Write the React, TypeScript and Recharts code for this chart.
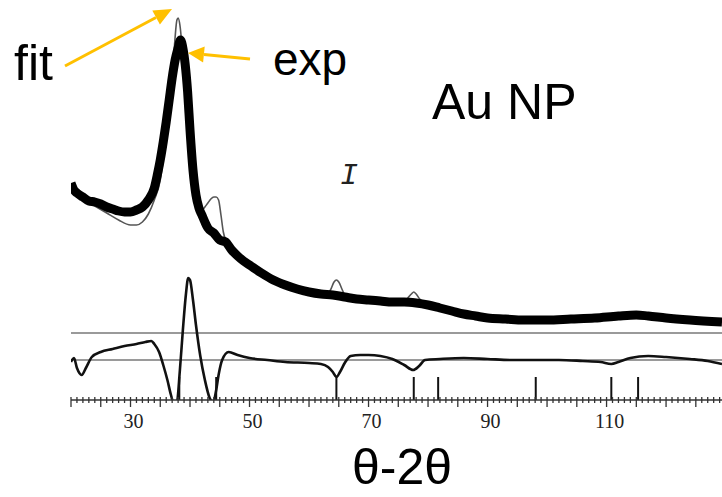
import React from 'react';
import { ComposedChart, Line, XAxis, YAxis, ReferenceLine } from 'recharts';

// 2θ (deg) and intensity (a.u., residual zero line = 0)
const expTheta = [20, 20.5, 21, 22, 23, 24, 25, 26, 27, 28, 29, 30, 31, 32, 33, 34, 34.5, 35, 35.5, 36, 36.5, 37, 37.5, 38, 38.4, 38.8, 39.2, 39.6, 40, 40.5, 41, 41.5, 42, 42.5, 43, 44, 45, 46, 47, 48, 49, 50, 52, 54, 56, 58, 60, 62, 64, 66, 68, 70, 72, 74, 76, 78, 80, 82, 84, 86, 88, 90, 93, 96, 100, 104, 108, 112, 115, 117, 120, 124, 129.4];
const expInt = [177, 170, 167, 163, 159, 158, 156, 153, 151, 149, 148, 148, 150, 153, 160, 172, 185, 200, 218, 238, 260, 282, 300, 312, 320, 312, 295, 268, 230, 190, 165, 152, 145, 138, 132, 127, 120, 118, 110, 104, 99, 95, 87, 80, 75, 71, 68, 66, 65, 63, 61, 60, 59, 58, 58, 57, 55, 52, 49, 46, 44, 42, 41, 40, 40, 41, 42, 44, 45, 44, 42, 40, 38];

const fitTheta = [20, 21, 22, 24, 26, 28, 30, 31, 32, 33, 34, 35, 35.5, 36, 36.5, 37, 37.4, 37.8, 38, 38.3, 38.7, 39.1, 39.5, 40, 40.5, 41, 41.5, 42, 42.5, 43, 43.5, 44, 44.4, 44.8, 45.2, 45.6, 46, 47, 48, 50, 52, 54, 56, 58, 60, 62, 63, 63.6, 64.2, 64.6, 65, 65.6, 66.2, 68, 70, 72, 74, 75.8, 76.6, 77.2, 77.6, 78, 78.6, 79.4, 80, 82, 84, 86, 88, 90, 93, 96, 100, 104, 108, 112, 115, 117, 120, 124, 129.4];
const fitInt = [172, 167, 161, 154, 147, 140, 135, 135, 138, 146, 160, 180, 200, 225, 240, 275, 315, 340, 342, 335, 310, 275, 240, 195, 165, 153, 150, 150, 153, 157, 161, 163, 163, 160, 145, 128, 120, 110, 104, 95, 87, 80, 75, 71, 68, 66, 66, 70, 78, 80, 78, 70, 63, 61, 60, 59, 58, 58, 62, 66, 68, 66, 61, 57, 55, 52, 49, 46, 44, 42, 41, 40, 40, 41, 42, 44, 45, 44, 42, 40, 38];

// difference curve (exp - fit), drawn around the 0 line
const diffTheta = [20, 20.5, 21, 21.8, 22.5, 23.5, 25, 27, 29, 31, 32.5, 33.5, 34, 34.8, 35.5, 36.2, 36.8, 37.3, 37.8, 38.3, 38.8, 39.3, 39.7, 40, 40.5, 41, 41.7, 42.5, 43.3, 43.9, 44.4, 44.8, 45.4, 46.5, 48, 50, 53, 56, 60, 62, 63.2, 64, 64.6, 65.2, 66, 67, 68.6, 70, 72, 74, 76, 77.5, 78.5, 79.5, 82, 86, 90, 94, 98, 102, 106, 109, 110.8, 112, 114, 117, 120, 124, 127, 129.4];
const diffInt = [-2, 2, -8, -15, -8, 3, 8, 11, 14, 16, 18, 19, 16, 8, -5, -20, -35, -44, -42, -10, 30, 65, 82, 80, 60, 35, 5, -20, -38, -42, -30, -15, 0, 8, 5, 2, 0, -2, -3, -4, -7, -12, -17, -12, -3, 4, 5, 5, 4, 1, -5, -10, -6, 0, 1, 2, 1, 0, 0, 0, -1, -2, -4, -2, 2, 4, 3, 1, -1, -4];

// Au reflections (2θ)
const braggPeaks = [38.2, 44.4, 64.6, 77.6, 81.7, 98.1, 110.8, 115.3];
const tickLabels = [30, 50, 70, 90, 110];
const upperGuide = 27;

const zip = (xs: number[], ys: number[]) => xs.map((x, i) => ({ x, y: ys[i] }));
const expData = zip(expTheta, expInt);
const fitData = zip(fitTheta, fitInt);
const diffData = zip(diffTheta, diffInt);

const allTicks: number[] = [];
for (let t = 20; t <= 129; t++) allTicks.push(t);

const AxisTick = (props: any) => {
  const { x, y, payload } = props;
  const v = payload.value;
  const major = v % 5 === 0;
  return (
    <g>
      <line x1={x} x2={x} y1={y - 3} y2={y + (major ? 7 : 3)} stroke="#333" strokeWidth={1.3} />
      {tickLabels.includes(v) && (
        <text x={x + 3} y={y + 28} textAnchor="middle" fontFamily="'Liberation Serif', serif" fontSize={20} fill="#222">
          {v}
        </text>
      )}
    </g>
  );
};

const orange = '#FFC000';

export default function App() {
  return (
    <div style={{ position: 'absolute', left: 0, top: 0, width: 722, height: 497, background: '#fff' }}>
      <ComposedChart width={722} height={497} margin={{ top: 0, right: 0, bottom: 67, left: 71 }}>
        <XAxis
          dataKey="x"
          type="number"
          domain={[20, 129.4]}
          allowDataOverflow
          ticks={allTicks}
          interval={0}
          tickSize={0}
          tickMargin={0}
          tick={<AxisTick />}
          height={30}
          axisLine={{ stroke: '#333', strokeWidth: 1.5 }}
        />
        <YAxis type="number" domain={[-40, 360]} hide allowDataOverflow />
        <ReferenceLine y={upperGuide} stroke="#9a9a9a" strokeWidth={2.2} />
        <ReferenceLine y={0} stroke="#9a9a9a" strokeWidth={2.2} />
        {braggPeaks.map((p) => (
          <ReferenceLine key={p} segment={[{ x: p, y: -17 }, { x: p, y: -40 }]} stroke="#111" strokeWidth={2} />
        ))}
        <Line data={diffData} dataKey="y" type="monotone" stroke="#111" strokeWidth={2.6} dot={false} isAnimationActive={false} />
        <Line data={fitData} dataKey="y" type="monotone" stroke="#555" strokeWidth={1.6} dot={false} isAnimationActive={false} />
        <Line data={expData} dataKey="y" type="monotone" stroke="#000" strokeWidth={9} strokeLinejoin="round" dot={false} isAnimationActive={false} />
      </ComposedChart>
      <svg width={722} height={497} style={{ position: 'absolute', left: 0, top: 0, pointerEvents: 'none' }}>
        <g fontFamily="'Liberation Sans', Arial, sans-serif" fill="#000">
          <text x={14} y={80} fontSize={50}>fit</text>
          <text x={273} y={75} fontSize={46}>exp</text>
          <text x={432} y={119} fontSize={50}>Au NP</text>
          <text x={402} y={484} fontSize={50} textAnchor="middle">θ-2θ</text>
        </g>
        <text x={349} y={184} fontSize={30} fontStyle="italic" fontFamily="'Liberation Mono', monospace" textAnchor="middle" fill="#222">I</text>
        <line x1={65} y1={66} x2={156} y2={17.5} stroke={orange} strokeWidth={3} />
        <polygon points="172,9 159.9,24.6 152.3,10.4" fill={orange} />
        <line x1={250} y1={59} x2={204} y2={54.5} stroke={orange} strokeWidth={3} />
        <polygon points="188,53 204.7,46.5 203.1,62.5" fill={orange} />
      </svg>
    </div>
  );
}
